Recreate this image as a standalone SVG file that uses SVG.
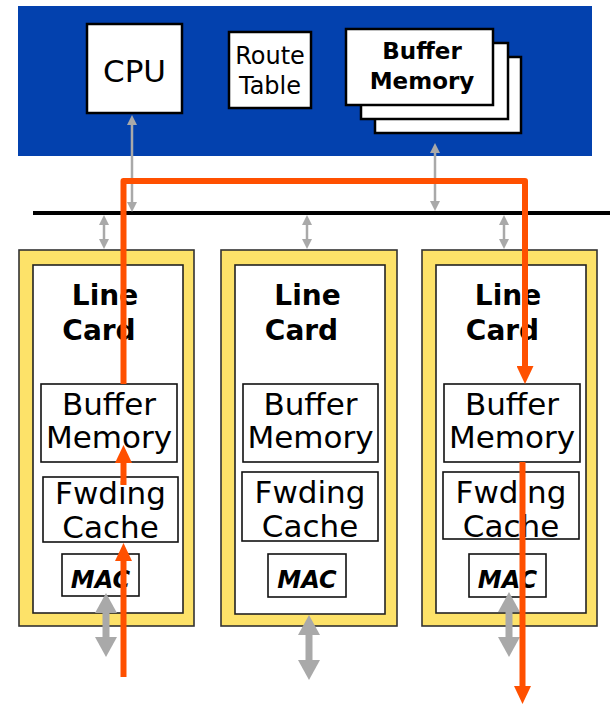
<svg xmlns="http://www.w3.org/2000/svg" width="610" height="704" viewBox="0 0 610 704">
<style>
text{font-family:"DejaVu Sans","Liberation Sans",sans-serif;fill:#000;text-anchor:middle}
.box{fill:#fff;stroke:#000;stroke-width:2.5}
.sbox{fill:#fff;stroke:#111;stroke-width:1.6}
.card{fill:#FDE269;stroke:#333;stroke-width:1.6}
.inner{fill:#fff;stroke:#222;stroke-width:1.6}
.t31{font-size:31px}
.lc{font-size:28px;font-weight:bold}
.mac{font-size:24px;font-weight:bold;font-style:italic}
.gs{stroke:#A9A9A9;stroke-width:2.5;fill:none;marker-start:url(#gs);marker-end:url(#gs)}
.gl{stroke:#A9A9A9;stroke-width:7;fill:none;marker-start:url(#gl);marker-end:url(#gl)}
.or{stroke:#FF5000;stroke-width:6;fill:none;stroke-linejoin:round}
.ora{marker-end:url(#oa)}
</style>
<defs>
<marker id="gs" markerUnits="userSpaceOnUse" markerWidth="10" markerHeight="10" refX="0" refY="5" orient="auto-start-reverse"><path d="M0,0 L10,5 L0,10 z" fill="#A9A9A9"/></marker>
<marker id="gl" markerUnits="userSpaceOnUse" markerWidth="20" markerHeight="22" refX="0" refY="11" orient="auto-start-reverse"><path d="M0,0 L20,11 L0,22 z" fill="#A9A9A9"/></marker>
<marker id="oa" markerUnits="userSpaceOnUse" markerWidth="18" markerHeight="17" refX="0" refY="8.5" orient="auto"><path d="M0,0 L18,8.5 L0,17 z" fill="#FF5000"/></marker>
</defs>
<rect id="route-processor" x="18" y="6" width="574" height="150" fill="#0341AE"/>
<g id="cpu"><rect class="box" x="87" y="24" width="95" height="89"/><text x="134.5" y="82" style="font-size:31px">CPU</text></g>
<g id="route-table"><rect class="box" x="229" y="32" width="82" height="76"/><text x="270" y="64" style="font-size:24px">Route</text><text x="270" y="94" style="font-size:24px">Table</text></g>
<g id="buffer-memory-top">
<rect class="box" x="375" y="57" width="146" height="76"/>
<rect class="box" x="361" y="43" width="147" height="76"/>
<rect class="box" x="346" y="29" width="147" height="76"/>
<text x="422" y="59" style="font-size:23px;font-weight:bold">Buffer</text>
<text x="422" y="89" style="font-size:23px;font-weight:bold">Memory</text>
</g>
<line id="bus" x1="33" y1="213" x2="610" y2="213" stroke="#000" stroke-width="4"/>
<g id="line-card-1">
<rect class="card" x="19" y="250" width="175" height="376"/>
<rect class="inner" x="33" y="265" width="150" height="348"/>
<text class="lc" x="105" y="305">Line</text><text class="lc" x="99" y="340">Card</text>
<rect class="sbox" x="41" y="384" width="136" height="78"/>
<text class="t31" x="109" y="415">Buffer</text><text class="t31" x="109" y="448">Memory</text>
<rect class="sbox" x="43" y="477" width="135" height="65"/>
<text class="t31" x="110.5" y="504">Fwding</text><text class="t31" x="110.5" y="538">Cache</text>
<rect class="sbox" x="62" y="554" width="77" height="42"/>
<text class="mac" x="100.5" y="588">MAC</text>
</g>
<g id="line-card-2">
<rect class="card" x="221" y="250" width="176" height="376"/>
<rect class="inner" x="235" y="265" width="150" height="349"/>
<text class="lc" x="307.5" y="305">Line</text><text class="lc" x="301.5" y="340">Card</text>
<rect class="sbox" x="243" y="384" width="135" height="78"/>
<text class="t31" x="310.5" y="415">Buffer</text><text class="t31" x="310.5" y="448">Memory</text>
<rect class="sbox" x="242" y="472" width="136" height="69"/>
<text class="t31" x="310" y="503">Fwding</text><text class="t31" x="310" y="537">Cache</text>
<rect class="sbox" x="268" y="554" width="78" height="43"/>
<text class="mac" x="307" y="588">MAC</text>
</g>
<g id="line-card-3">
<rect class="card" x="422" y="250" width="175" height="376"/>
<rect class="inner" x="436" y="265" width="150" height="348"/>
<text class="lc" x="508" y="305">Line</text><text class="lc" x="502.5" y="340">Card</text>
<rect class="sbox" x="444" y="384" width="136" height="78"/>
<text class="t31" x="512" y="415">Buffer</text><text class="t31" x="512" y="448">Memory</text>
<rect class="sbox" x="443" y="472" width="136" height="67"/>
<text class="t31" x="511" y="503">Fwding</text><text class="t31" x="511" y="537">Cache</text>
<rect class="sbox" x="469" y="554" width="77" height="43"/>
<text class="mac" x="507.5" y="588">MAC</text>
</g>
<g id="connectors">
<line class="gs" x1="132" y1="125" x2="132" y2="202"/>
<line class="gs" x1="435" y1="153" x2="435" y2="201"/>
<line class="gs" x1="104" y1="225" x2="104" y2="239"/>
<line class="gs" x1="307" y1="225" x2="307" y2="239"/>
<line class="gs" x1="504" y1="225" x2="504" y2="239"/>
<line class="gl" x1="106" y1="613" x2="106" y2="637"/>
<line class="gl" x1="309" y1="635" x2="309" y2="660"/>
<line class="gl" x1="509" y1="612" x2="509" y2="637"/>
<path class="or ora" d="M123.5,677 V561"/>
<path class="or ora" d="M123.5,485 V463"/>
<path class="or ora" d="M123.5,384 V181 H525 V366"/>
<path class="or ora" d="M522.5,462 V686"/>
</g>
</svg>
